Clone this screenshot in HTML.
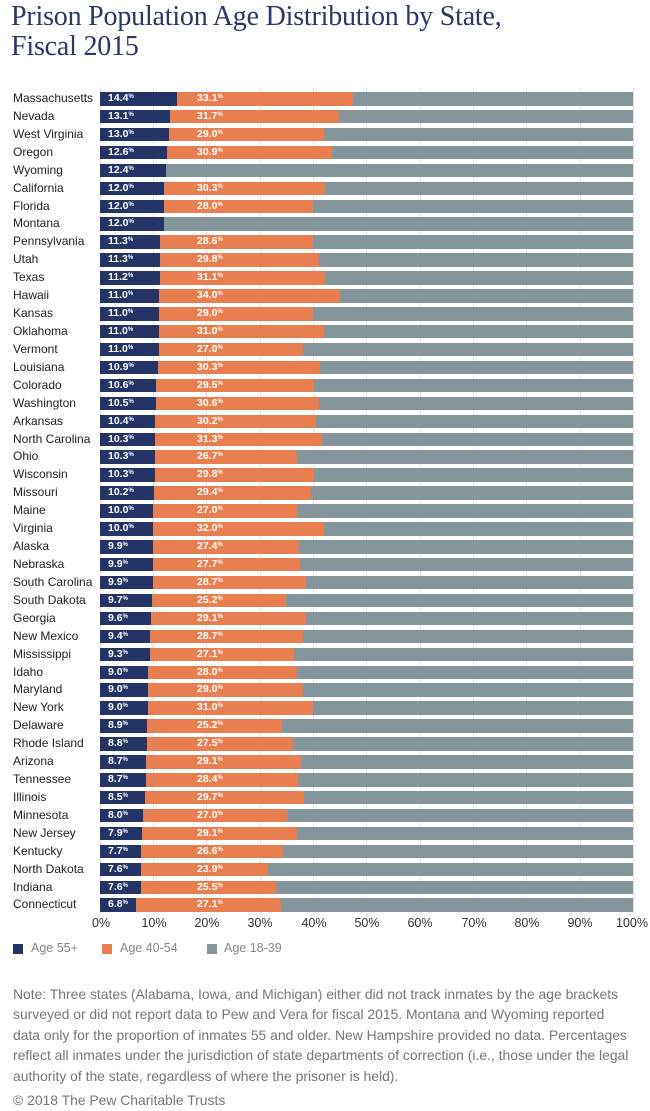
<!DOCTYPE html>
<html><head><meta charset="utf-8"><style>
body{margin:0;width:650px;height:1111px;background:#fff;position:relative;font-family:"Liberation Sans",sans-serif;overflow:hidden}
.title{position:absolute;left:11px;top:2px;font-family:"Liberation Serif",serif;font-size:28px;line-height:30px;color:#2a3768;letter-spacing:-0.2px}
.grid{position:absolute;top:88px;height:826px;width:1px;background:#e2e2e2}
#rows{position:absolute;left:0;top:92px;width:650px}
.r{height:17.93px;position:relative}
.n{position:absolute;left:13px;top:-1px;font-size:12px;line-height:15px;color:#222}
.b{position:absolute;left:100px;top:0;width:533px;height:13.5px;display:flex;background:#84959b}
.b i{display:block;height:100%}
.a{background:#253466}.o{background:#e97e50}
.l{position:absolute;top:0;font-size:10.5px;line-height:13.5px;font-weight:bold;color:#fff}
.l s{text-decoration:none;font-size:6px;vertical-align:top;line-height:10px}
.ax{position:absolute;top:916px;font-size:12.5px;color:#333;transform:translateX(-50%)}
.lg{position:absolute;top:944px;width:10px;height:10px}
.lt{position:absolute;top:941px;font-size:12.5px;color:#888}
.note{position:absolute;left:13px;top:984px;font-size:13.9px;line-height:20.4px;color:#777;white-space:nowrap}
.copy{position:absolute;left:13px;top:1092px;font-size:13.9px;color:#777}
</style></head><body>
<div class="title">Prison Population Age Distribution by State,<br>Fiscal 2015</div>
<div class="grid" style="left:100px"></div><div class="grid" style="left:153px"></div><div class="grid" style="left:206px"></div><div class="grid" style="left:260px"></div><div class="grid" style="left:313px"></div><div class="grid" style="left:366px"></div><div class="grid" style="left:420px"></div><div class="grid" style="left:473px"></div><div class="grid" style="left:526px"></div><div class="grid" style="left:580px"></div><div class="grid" style="left:633px"></div>
<div id="rows">
<div class="r"><span class="n">Massachusetts</span><div class="b"><i class="a" style="width:14.4%"></i><i class="o" style="width:33.1%"></i></div><span class="l" style="left:108px">14.4<s>%</s></span><span class="l" style="left:197px">33.1<s>%</s></span></div>
<div class="r"><span class="n">Nevada</span><div class="b"><i class="a" style="width:13.1%"></i><i class="o" style="width:31.7%"></i></div><span class="l" style="left:108px">13.1<s>%</s></span><span class="l" style="left:197px">31.7<s>%</s></span></div>
<div class="r"><span class="n">West Virginia</span><div class="b"><i class="a" style="width:13.0%"></i><i class="o" style="width:29.0%"></i></div><span class="l" style="left:108px">13.0<s>%</s></span><span class="l" style="left:197px">29.0<s>%</s></span></div>
<div class="r"><span class="n">Oregon</span><div class="b"><i class="a" style="width:12.6%"></i><i class="o" style="width:30.9%"></i></div><span class="l" style="left:108px">12.6<s>%</s></span><span class="l" style="left:197px">30.9<s>%</s></span></div>
<div class="r"><span class="n">Wyoming</span><div class="b"><i class="a" style="width:12.4%"></i></div><span class="l" style="left:108px">12.4<s>%</s></span></div>
<div class="r"><span class="n">California</span><div class="b"><i class="a" style="width:12.0%"></i><i class="o" style="width:30.3%"></i></div><span class="l" style="left:108px">12.0<s>%</s></span><span class="l" style="left:197px">30.3<s>%</s></span></div>
<div class="r"><span class="n">Florida</span><div class="b"><i class="a" style="width:12.0%"></i><i class="o" style="width:28.0%"></i></div><span class="l" style="left:108px">12.0<s>%</s></span><span class="l" style="left:197px">28.0<s>%</s></span></div>
<div class="r"><span class="n">Montana</span><div class="b"><i class="a" style="width:12.0%"></i></div><span class="l" style="left:108px">12.0<s>%</s></span></div>
<div class="r"><span class="n">Pennsylvania</span><div class="b"><i class="a" style="width:11.3%"></i><i class="o" style="width:28.6%"></i></div><span class="l" style="left:108px">11.3<s>%</s></span><span class="l" style="left:197px">28.6<s>%</s></span></div>
<div class="r"><span class="n">Utah</span><div class="b"><i class="a" style="width:11.3%"></i><i class="o" style="width:29.8%"></i></div><span class="l" style="left:108px">11.3<s>%</s></span><span class="l" style="left:197px">29.8<s>%</s></span></div>
<div class="r"><span class="n">Texas</span><div class="b"><i class="a" style="width:11.2%"></i><i class="o" style="width:31.1%"></i></div><span class="l" style="left:108px">11.2<s>%</s></span><span class="l" style="left:197px">31.1<s>%</s></span></div>
<div class="r"><span class="n">Hawaii</span><div class="b"><i class="a" style="width:11.0%"></i><i class="o" style="width:34.0%"></i></div><span class="l" style="left:108px">11.0<s>%</s></span><span class="l" style="left:197px">34.0<s>%</s></span></div>
<div class="r"><span class="n">Kansas</span><div class="b"><i class="a" style="width:11.0%"></i><i class="o" style="width:29.0%"></i></div><span class="l" style="left:108px">11.0<s>%</s></span><span class="l" style="left:197px">29.0<s>%</s></span></div>
<div class="r"><span class="n">Oklahoma</span><div class="b"><i class="a" style="width:11.0%"></i><i class="o" style="width:31.0%"></i></div><span class="l" style="left:108px">11.0<s>%</s></span><span class="l" style="left:197px">31.0<s>%</s></span></div>
<div class="r"><span class="n">Vermont</span><div class="b"><i class="a" style="width:11.0%"></i><i class="o" style="width:27.0%"></i></div><span class="l" style="left:108px">11.0<s>%</s></span><span class="l" style="left:197px">27.0<s>%</s></span></div>
<div class="r"><span class="n">Louisiana</span><div class="b"><i class="a" style="width:10.9%"></i><i class="o" style="width:30.3%"></i></div><span class="l" style="left:108px">10.9<s>%</s></span><span class="l" style="left:197px">30.3<s>%</s></span></div>
<div class="r"><span class="n">Colorado</span><div class="b"><i class="a" style="width:10.6%"></i><i class="o" style="width:29.5%"></i></div><span class="l" style="left:108px">10.6<s>%</s></span><span class="l" style="left:197px">29.5<s>%</s></span></div>
<div class="r"><span class="n">Washington</span><div class="b"><i class="a" style="width:10.5%"></i><i class="o" style="width:30.6%"></i></div><span class="l" style="left:108px">10.5<s>%</s></span><span class="l" style="left:197px">30.6<s>%</s></span></div>
<div class="r"><span class="n">Arkansas</span><div class="b"><i class="a" style="width:10.4%"></i><i class="o" style="width:30.2%"></i></div><span class="l" style="left:108px">10.4<s>%</s></span><span class="l" style="left:197px">30.2<s>%</s></span></div>
<div class="r"><span class="n">North Carolina</span><div class="b"><i class="a" style="width:10.3%"></i><i class="o" style="width:31.3%"></i></div><span class="l" style="left:108px">10.3<s>%</s></span><span class="l" style="left:197px">31.3<s>%</s></span></div>
<div class="r"><span class="n">Ohio</span><div class="b"><i class="a" style="width:10.3%"></i><i class="o" style="width:26.7%"></i></div><span class="l" style="left:108px">10.3<s>%</s></span><span class="l" style="left:197px">26.7<s>%</s></span></div>
<div class="r"><span class="n">Wisconsin</span><div class="b"><i class="a" style="width:10.3%"></i><i class="o" style="width:29.8%"></i></div><span class="l" style="left:108px">10.3<s>%</s></span><span class="l" style="left:197px">29.8<s>%</s></span></div>
<div class="r"><span class="n">Missouri</span><div class="b"><i class="a" style="width:10.2%"></i><i class="o" style="width:29.4%"></i></div><span class="l" style="left:108px">10.2<s>%</s></span><span class="l" style="left:197px">29.4<s>%</s></span></div>
<div class="r"><span class="n">Maine</span><div class="b"><i class="a" style="width:10.0%"></i><i class="o" style="width:27.0%"></i></div><span class="l" style="left:108px">10.0<s>%</s></span><span class="l" style="left:197px">27.0<s>%</s></span></div>
<div class="r"><span class="n">Virginia</span><div class="b"><i class="a" style="width:10.0%"></i><i class="o" style="width:32.0%"></i></div><span class="l" style="left:108px">10.0<s>%</s></span><span class="l" style="left:197px">32.0<s>%</s></span></div>
<div class="r"><span class="n">Alaska</span><div class="b"><i class="a" style="width:9.9%"></i><i class="o" style="width:27.4%"></i></div><span class="l" style="left:108px">9.9<s>%</s></span><span class="l" style="left:197px">27.4<s>%</s></span></div>
<div class="r"><span class="n">Nebraska</span><div class="b"><i class="a" style="width:9.9%"></i><i class="o" style="width:27.7%"></i></div><span class="l" style="left:108px">9.9<s>%</s></span><span class="l" style="left:197px">27.7<s>%</s></span></div>
<div class="r"><span class="n">South Carolina</span><div class="b"><i class="a" style="width:9.9%"></i><i class="o" style="width:28.7%"></i></div><span class="l" style="left:108px">9.9<s>%</s></span><span class="l" style="left:197px">28.7<s>%</s></span></div>
<div class="r"><span class="n">South Dakota</span><div class="b"><i class="a" style="width:9.7%"></i><i class="o" style="width:25.2%"></i></div><span class="l" style="left:108px">9.7<s>%</s></span><span class="l" style="left:197px">25.2<s>%</s></span></div>
<div class="r"><span class="n">Georgia</span><div class="b"><i class="a" style="width:9.6%"></i><i class="o" style="width:29.1%"></i></div><span class="l" style="left:108px">9.6<s>%</s></span><span class="l" style="left:197px">29.1<s>%</s></span></div>
<div class="r"><span class="n">New Mexico</span><div class="b"><i class="a" style="width:9.4%"></i><i class="o" style="width:28.7%"></i></div><span class="l" style="left:108px">9.4<s>%</s></span><span class="l" style="left:197px">28.7<s>%</s></span></div>
<div class="r"><span class="n">Mississippi</span><div class="b"><i class="a" style="width:9.3%"></i><i class="o" style="width:27.1%"></i></div><span class="l" style="left:108px">9.3<s>%</s></span><span class="l" style="left:197px">27.1<s>%</s></span></div>
<div class="r"><span class="n">Idaho</span><div class="b"><i class="a" style="width:9.0%"></i><i class="o" style="width:28.0%"></i></div><span class="l" style="left:108px">9.0<s>%</s></span><span class="l" style="left:197px">28.0<s>%</s></span></div>
<div class="r"><span class="n">Maryland</span><div class="b"><i class="a" style="width:9.0%"></i><i class="o" style="width:29.0%"></i></div><span class="l" style="left:108px">9.0<s>%</s></span><span class="l" style="left:197px">29.0<s>%</s></span></div>
<div class="r"><span class="n">New York</span><div class="b"><i class="a" style="width:9.0%"></i><i class="o" style="width:31.0%"></i></div><span class="l" style="left:108px">9.0<s>%</s></span><span class="l" style="left:197px">31.0<s>%</s></span></div>
<div class="r"><span class="n">Delaware</span><div class="b"><i class="a" style="width:8.9%"></i><i class="o" style="width:25.2%"></i></div><span class="l" style="left:108px">8.9<s>%</s></span><span class="l" style="left:197px">25.2<s>%</s></span></div>
<div class="r"><span class="n">Rhode Island</span><div class="b"><i class="a" style="width:8.8%"></i><i class="o" style="width:27.5%"></i></div><span class="l" style="left:108px">8.8<s>%</s></span><span class="l" style="left:197px">27.5<s>%</s></span></div>
<div class="r"><span class="n">Arizona</span><div class="b"><i class="a" style="width:8.7%"></i><i class="o" style="width:29.1%"></i></div><span class="l" style="left:108px">8.7<s>%</s></span><span class="l" style="left:197px">29.1<s>%</s></span></div>
<div class="r"><span class="n">Tennessee</span><div class="b"><i class="a" style="width:8.7%"></i><i class="o" style="width:28.4%"></i></div><span class="l" style="left:108px">8.7<s>%</s></span><span class="l" style="left:197px">28.4<s>%</s></span></div>
<div class="r"><span class="n">Illinois</span><div class="b"><i class="a" style="width:8.5%"></i><i class="o" style="width:29.7%"></i></div><span class="l" style="left:108px">8.5<s>%</s></span><span class="l" style="left:197px">29.7<s>%</s></span></div>
<div class="r"><span class="n">Minnesota</span><div class="b"><i class="a" style="width:8.0%"></i><i class="o" style="width:27.0%"></i></div><span class="l" style="left:108px">8.0<s>%</s></span><span class="l" style="left:197px">27.0<s>%</s></span></div>
<div class="r"><span class="n">New Jersey</span><div class="b"><i class="a" style="width:7.9%"></i><i class="o" style="width:29.1%"></i></div><span class="l" style="left:108px">7.9<s>%</s></span><span class="l" style="left:197px">29.1<s>%</s></span></div>
<div class="r"><span class="n">Kentucky</span><div class="b"><i class="a" style="width:7.7%"></i><i class="o" style="width:26.6%"></i></div><span class="l" style="left:108px">7.7<s>%</s></span><span class="l" style="left:197px">26.6<s>%</s></span></div>
<div class="r"><span class="n">North Dakota</span><div class="b"><i class="a" style="width:7.6%"></i><i class="o" style="width:23.9%"></i></div><span class="l" style="left:108px">7.6<s>%</s></span><span class="l" style="left:197px">23.9<s>%</s></span></div>
<div class="r"><span class="n">Indiana</span><div class="b"><i class="a" style="width:7.6%"></i><i class="o" style="width:25.5%"></i></div><span class="l" style="left:108px">7.6<s>%</s></span><span class="l" style="left:197px">25.5<s>%</s></span></div>
<div class="r"><span class="n">Connecticut</span><div class="b"><i class="a" style="width:6.8%"></i><i class="o" style="width:27.1%"></i></div><span class="l" style="left:108px">6.8<s>%</s></span><span class="l" style="left:197px">27.1<s>%</s></span></div>
</div>
<span class="ax" style="left:101px">0%</span><span class="ax" style="left:154px">10%</span><span class="ax" style="left:207px">20%</span><span class="ax" style="left:260px">30%</span><span class="ax" style="left:314px">40%</span><span class="ax" style="left:367px">50%</span><span class="ax" style="left:420px">60%</span><span class="ax" style="left:474px">70%</span><span class="ax" style="left:527px">80%</span><span class="ax" style="left:580px">90%</span><span class="ax" style="left:632px">100%</span>
<div class="lg" style="left:13px;background:#253466"></div><span class="lt" style="left:31px">Age 55+</span>
<div class="lg" style="left:102px;background:#e97e50"></div><span class="lt" style="left:120px">Age 40-54</span>
<div class="lg" style="left:207px;background:#84959b"></div><span class="lt" style="left:224px">Age 18-39</span>
<div class="note">Note: Three states (Alabama, Iowa, and Michigan) either did not track inmates by the age brackets<br>surveyed or did not report data to Pew and Vera for fiscal 2015. Montana and Wyoming reported<br>data only for the proportion of inmates 55 and older. New Hampshire provided no data. Percentages<br>reflect all inmates under the jurisdiction of state departments of correction (i.e., those under the legal<br>authority of the state, regardless of where the prisoner is held).</div>
<div class="copy">© 2018 The Pew Charitable Trusts</div>
</body></html>
